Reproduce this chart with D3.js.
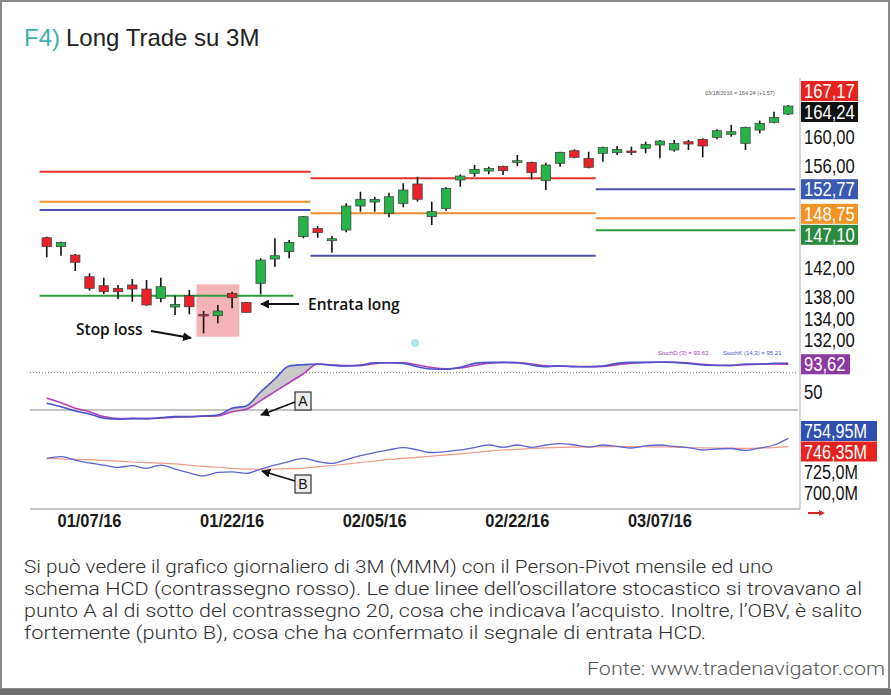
<!DOCTYPE html>
<html>
<head>
<meta charset="utf-8">
<script src="https://cdn.jsdelivr.net/npm/d3@7"></script>
<style>
  body { margin: 0; background: #fff; }
</style>
</head>
<body>
<div id="chart"></div>
<script>
// ---- data ----
var dates = ["01/04/16","01/05/16","01/06/16","01/07/16","01/08/16","01/11/16","01/12/16","01/13/16","01/14/16","01/15/16",
             "01/19/16","01/20/16","01/21/16","01/22/16","01/25/16","01/26/16","01/27/16","01/28/16","01/29/16",
             "02/01/16","02/02/16","02/03/16","02/04/16","02/05/16","02/08/16","02/09/16","02/10/16","02/11/16","02/12/16",
             "02/16/16","02/17/16","02/18/16","02/19/16","02/22/16","02/23/16","02/24/16","02/25/16","02/26/16","02/29/16",
             "03/01/16","03/02/16","03/03/16","03/04/16","03/07/16","03/08/16","03/09/16","03/10/16","03/11/16",
             "03/14/16","03/15/16","03/16/16","03/17/16","03/18/16"];

var opens  = [146.08,144.84,143.69,140.70,139.46,139.10,139.56,139.00,137.72,136.52,
              138.08,135.51,135.32,138.41,137.17,139.79,143.14,144.15,146.22,
              147.38,145.67,147.14,150.45,151.00,149.45,150.82,153.49,148.98,150.13,
              154.04,154.96,155.28,155.93,156.48,156.48,153.94,156.34,158.08,157.03,
              157.72,157.80,158.04,158.41,158.87,158.18,159.32,159.65,159.93,
              160.34,159.10,160.93,162.00,163.14];
var highs  = [146.22,145.53,143.83,141.17,140.56,139.56,140.38,140.24,140.56,138.08,
              138.87,135.97,136.80,138.63,137.21,143.24,146.00,145.76,149.07,
              147.69,146.31,150.82,152.42,151.73,152.29,153.58,154.49,151.05,153.03,
              154.82,156.11,155.87,156.01,157.49,156.56,156.42,157.94,158.27,157.94,
              158.63,158.73,158.63,159.32,159.56,159.56,159.56,159.79,161.03,
              161.62,161.39,162.22,163.46,164.38];
var lows   = [143.38,143.60,141.49,138.77,138.31,137.62,137.25,136.70,137.17,135.42,
              135.51,132.89,134.27,136.34,135.73,138.27,142.08,143.24,146.00,
              146.08,144.01,146.82,149.67,149.67,148.89,150.27,151.05,147.83,149.80,
              153.11,154.49,154.82,154.73,155.97,154.13,152.66,155.87,157.03,155.65,
              156.56,157.49,157.49,157.72,157.03,157.94,158.18,157.17,159.65,
              160.01,158.18,160.48,161.86,163.00];
var closes = [144.84,145.44,142.69,139.10,138.63,138.63,139.00,136.80,139.32,136.89,
              136.56,135.42,135.97,137.80,135.79,143.00,143.60,145.44,148.98,
              146.77,145.94,150.45,151.38,151.38,151.73,152.66,151.38,149.67,152.89,
              154.59,155.51,155.65,155.32,156.70,155.05,156.11,157.86,157.17,155.79,
              158.55,158.27,157.94,158.96,159.42,159.10,159.00,158.73,160.84,
              160.70,161.31,161.86,162.67,164.24];

// monthly pivot levels (red, orange, blue, green)
var janPivots = [155.18, 151.05, 149.90, 138.08];
var febPivots = [154.27, 149.45, 143.60];
var marPivots = [152.77, 148.75, 147.10];

// stochastic %K (14,3) and %D (3)
var stochK = [30.8,25.3,18.4,13.6,6.7,5.1,6.0,6.0,7.7,9.3,9.3,10.4,12.0,22.8,26.5,49.0,69.9,90.8,92.9,
              94.0,91.9,90.8,92.4,96.1,96.1,95.1,89.6,86.0,85.5,88.7,95.1,96.7,96.7,96.1,92.4,89.6,91.3,89.6,89.6,
              90.8,95.1,96.7,96.7,97.2,96.7,95.1,92.4,91.6,91.6,94.0,94.0,95.1,95.21];
var stochD = [38.8,31.8,22.8,17.3,9.3,6.0,6.5,6.0,7.0,8.5,9.0,10.0,10.4,17.3,21.2,35.0,49.5,63.9,78.4,
              94.0,92.5,91.5,91.5,94.5,96.0,95.8,92.4,88.4,86.5,87.5,91.5,95.5,96.5,96.3,94.0,91.2,90.5,90.2,89.8,
              90.2,93.0,95.5,96.5,96.8,96.8,95.6,93.5,92.0,91.8,92.8,93.6,94.2,93.62];

// on balance volume (millions) and its average
var obv    = [734.5,736.1,732.7,729.7,727.4,725.3,726.9,724.2,727.6,723.5,719.5,716.4,720.0,720.5,719.1,723.5,727.6,731.2,734.5,
              731.2,729.2,733.2,737.3,740.4,743.0,745.5,743.0,740.4,741.4,743.0,745.5,748.1,745.7,748.1,745.7,748.1,749.6,748.1,746.0,
              748.1,746.6,745.0,747.1,748.1,746.6,745.5,743.0,744.0,744.5,742.5,745.0,748.1,754.95];
var obvAvg = [734.5,733.8,733.3,733.2,732.4,731.6,730.7,730.0,729.5,728.7,727.4,726.3,725.3,724.2,723.5,723.3,723.5,723.9,724.2,
              725.8,727.1,728.6,730.2,731.7,733.3,734.5,735.5,736.8,737.9,739.1,740.4,741.9,743.0,743.7,744.5,745.2,745.7,745.9,746.1,
              746.4,746.4,746.4,746.3,746.1,745.9,745.5,745.2,745.0,744.8,744.7,745.0,745.5,746.35];

var dateTicks  = ["01/07/16","01/22/16","02/05/16","02/22/16","03/07/16"];
var priceTicks = [160, 156, 142, 138, 134, 132];
var priceMarks = [167.17, 164.24, 152.77, 148.75, 147.10];
var stochTicks = [50];
var obvTicks   = [725, 700];
var hcdDates   = ["01/20/16", "01/22/16"];
var hcdRange   = [132.42, 139.65];

var captionLines = [
  "Si può vedere il grafico giornaliero di 3M (MMM) con il Person-Pivot mensile ed uno",
  "schema HCD (contrassegno rosso). Le due linee dell\u2019oscillatore stocastico si trovavano al",
  "punto A al di sotto del contrassegno 20, cosa che indicava l\u2019acquisto. Inoltre, l\u2019OBV, è salito",
  "fortemente (punto B), cosa che ha confermato il segnale di entrata HCD."
];

// ---- layout ----
var W = 891, H = 695;
var plotL = 30, plotR = 800;

var svg = d3.select("#chart").append("svg")
    .attr("width", W).attr("height", H)
    .style("font-family", "'Liberation Sans', Arial, sans-serif");

// frame
svg.append("rect").attr("x", 1).attr("y", 1).attr("width", W - 3).attr("height", H - 7)
    .attr("fill", "#fff").attr("stroke", "#8a8a8a").attr("stroke-width", 2);
svg.append("rect").attr("x", 0).attr("y", H - 6).attr("width", W).attr("height", 6).attr("fill", "#6f6f6f");

// title
var title = svg.append("text").attr("x", 24).attr("y", 46).style("font-size", "24px");
title.append("tspan").attr("fill", "#3cb0ac").text("F4)");
title.append("tspan").attr("fill", "#222").attr("dx", 6).text("Long Trade su 3M");

// scales
var x = d3.scaleBand().domain(dates).range([39.6, 795.4]).padding(0);
var cx = function (d) { return x(d) + x.bandwidth() / 2; };
var y = d3.scaleLinear().domain([132, 167.17]).range([339.8, 84.8]);
var yS = d3.scaleLinear().domain([0, 100]).range([422.4, 360.3]);
var yO = d3.scaleLinear().domain([700, 754.95]).range([492, 438.3]);

// axis frame lines
svg.append("line").attr("x1", plotR).attr("x2", plotR).attr("y1", 78).attr("y2", 509)
    .attr("stroke", "#c8c8c8").attr("stroke-width", 1.5);
svg.append("line").attr("x1", plotL).attr("x2", plotR).attr("y1", 509).attr("y2", 509)
    .attr("stroke", "#b5b5b5").attr("stroke-width", 1.5);

// HCD zone
svg.append("rect")
    .attr("x", x(hcdDates[0])).attr("width", x(hcdDates[1]) + x.bandwidth() - x(hcdDates[0]))
    .attr("y", y(hcdRange[1])).attr("height", y(hcdRange[0]) - y(hcdRange[1]))
    .attr("fill", "#f2a7a9").attr("opacity", 0.85);

// pivot segments
var pivotColors = ["#e8322b", "#f08c2a", "#4f52b3", "#2f9a3d"];
function drawPivots(levels, colors, d0, d1) {
  svg.append("g").selectAll("line").data(levels).enter().append("line")
      .attr("x1", x(d0)).attr("x2", function (d, i) { return i === 3 ? x("01/28/16") + x.bandwidth() - 3 : x(d1) + x.bandwidth(); })
      .attr("y1", function (d) { return y(d); }).attr("y2", function (d) { return y(d); })
      .attr("stroke", function (d, i) { return colors[i]; }).attr("stroke-width", 2);
}
drawPivots(janPivots, pivotColors, "01/04/16", "01/29/16");
drawPivots(febPivots, pivotColors.slice(0, 3), "02/01/16", "02/29/16");
drawPivots(marPivots, ["#4f52b3", "#f08c2a", "#2f9a3d"], "03/01/16", "03/18/16");

// candles
var candles = svg.append("g").selectAll("g").data(dates).enter().append("g");
candles.append("line")
    .attr("x1", cx).attr("x2", cx)
    .attr("y1", function (d, i) { return y(highs[i]); })
    .attr("y2", function (d, i) { return y(lows[i]); })
    .attr("stroke", "#111").attr("stroke-width", 1.6);
var bw = x.bandwidth() * 0.66;
candles.append("rect")
    .attr("x", function (d) { return cx(d) - bw / 2; })
    .attr("width", bw)
    .attr("y", function (d, i) { return y(Math.max(opens[i], closes[i])); })
    .attr("height", function (d, i) { return Math.max(1.6, Math.abs(y(opens[i]) - y(closes[i]))); })
    .attr("fill", function (d, i) { return closes[i] >= opens[i] ? "#27b34a" : "#e8232b"; })
    .attr("stroke", "#3a3a3a").attr("stroke-width", 0.7);

// small header note
svg.append("text").attr("x", 705).attr("y", 95).attr("fill", "#555")
    .style("font-size", "5.5px").text("03/18/2016 = 164.24 (+1.57)");

// stochastic
svg.append("line").attr("x1", plotL).attr("x2", plotR - 2).attr("y1", yS(80)).attr("y2", yS(80))
    .attr("stroke", "#777").attr("stroke-dasharray", "1,2");
svg.append("line").attr("x1", plotL).attr("x2", plotR - 2).attr("y1", yS(20)).attr("y2", yS(20))
    .attr("stroke", "#b0b0b0").attr("stroke-width", 1.5);

var crossIdx = d3.range(12, 20);
svg.append("path").datum(crossIdx)
    .attr("d", d3.area().x(function (i) { return cx(dates[i]); })
        .y0(function (i) { return yS(stochD[i]); }).y1(function (i) { return yS(stochK[i]); }))
    .attr("fill", "#c9c9c9");

function seriesLine(vals, sc) {
  return d3.line().x(function (v, i) { return cx(dates[i]); }).y(function (v) { return sc(v); })
      .curve(d3.curveMonotoneX)(vals);
}
svg.append("path").attr("d", seriesLine(stochD, yS)).attr("fill", "none")
    .attr("stroke", "#b23fb5").attr("stroke-width", 1.6);
svg.append("path").attr("d", seriesLine(stochK, yS)).attr("fill", "none")
    .attr("stroke", "#4a52cc").attr("stroke-width", 1.6);

svg.append("text").attr("x", 658).attr("y", 355).attr("fill", "#9b3fae")
    .style("font-size", "6px").text("StochD (3) = 93.62");
svg.append("text").attr("x", 723).attr("y", 355).attr("fill", "#4a52cc")
    .style("font-size", "6px").text("StochK (14,3) = 95.21");

// OBV
svg.append("path").attr("d", seriesLine(obvAvg, yO)).attr("fill", "none")
    .attr("stroke", "#f29a86").attr("stroke-width", 1.2);
svg.append("path").attr("d", seriesLine(obv, yO)).attr("fill", "none")
    .attr("stroke", "#5c63d6").attr("stroke-width", 1.3);

// x axis (condensed look via textLength)
var xAxis = svg.append("g").attr("transform", "translate(0,509)")
    .call(d3.axisBottom(x).tickValues(dateTicks).tickSize(0).tickPadding(5));
xAxis.select(".domain").remove();
xAxis.selectAll("text").style("font-size", "19px").style("font-weight", "bold").attr("fill", "#1a1a1a")
    .style("font-family", "'Liberation Sans', Arial, sans-serif")
    .attr("textLength", 64).attr("lengthAdjust", "spacingAndGlyphs");

// right labels, spread so they don't overlap
function spread(items, gap, lo, hi) {
  items.sort(function (a, b) { return a.y - b.y; });
  for (var k = 0; k < 80; k++) {
    for (var i = 1; i < items.length; i++) {
      var d = items[i].y - items[i - 1].y;
      if (d < gap) { var m = (gap - d) / 2; items[i - 1].y -= m; items[i].y += m; }
    }
    items.forEach(function (o) { o.y = Math.max(lo, Math.min(hi, o.y)); });
  }
  return items;
}
var fmt = function (v) { return d3.format(".2f")(v).replace(".", ","); };
var markColors = ["#e8231f", "#111", "#3a59b4", "#f39324", "#2b8a3f"];

var priceItems = priceTicks.map(function (v) { return { y: y(v), text: fmt(v), bg: null }; })
  .concat(priceMarks.map(function (v, i) { return { y: y(v), text: fmt(v), bg: markColors[i] }; }));
spread(priceItems, 21, 91, 340);

var stochItems = [{ y: yS(93.62), text: "93,62", bg: "#8b3b9f", w: 49 }]
  .concat(stochTicks.map(function (v) { return { y: yS(v), text: String(v), bg: null }; }));

var obvItems = [{ y: yO(754.95), text: "754,95M", bg: "#2f50b0", w: 76 },
                { y: yO(746.35), text: "746,35M", bg: "#e52421", w: 76 }]
  .concat(obvTicks.map(function (v) { return { y: yO(v), text: d3.format(".1f")(v).replace(".", ",") + "M", bg: null }; }));
spread(obvItems, 20.5, 431, 493);

function drawLabels(items, w, size) {
  var g = svg.append("g").selectAll("g").data(items).enter().append("g");
  g.filter(function (d) { return d.bg; }).append("rect")
      .attr("x", 801).attr("y", function (d) { return d.y - 10; })
      .attr("width", function (d) { return d.w || w; }).attr("height", 20)
      .attr("fill", function (d) { return d.bg; });
  g.append("text")
      .attr("transform", function (d) { return "translate(804," + d.y + ") scale(0.83,1)"; })
      .attr("dy", "0.36em").style("font-size", size + "px")
      .attr("fill", function (d) { return d.bg ? "#fff" : "#111"; })
      .text(function (d) { return d.text; });
}
drawLabels(priceItems, 57, 20);
drawLabels(stochItems, 49, 20);
drawLabels(obvItems, 76, 19.5);

// small red arrow at axis corner
svg.append("path").attr("d", "M808,512 L819,512 L819,510 L825,513 L819,516 L819,514 L808,514 Z").attr("fill", "#d9262b");

// annotations
var defs = svg.append("defs");
defs.append("marker").attr("id", "head").attr("viewBox", "0 0 10 10").attr("refX", 9).attr("refY", 5)
    .attr("markerWidth", 5).attr("markerHeight", 5).attr("orient", "auto")
  .append("path").attr("d", "M0,0 L10,5 L0,10 Z").attr("fill", "#111");

function arrow(x1, y1, x2, y2) {
  svg.append("line").attr("x1", x1).attr("y1", y1).attr("x2", x2).attr("y2", y2)
      .attr("stroke", "#111").attr("stroke-width", 1.8).attr("marker-end", "url(#head)");
}
var noteFont = "'Open Sans', 'Noto Sans', sans-serif";
svg.append("text").attr("x", 308).attr("y", 305).attr("dy", "0.35em")
    .style("font-family", noteFont).style("font-size", "15.5px").style("font-weight", 600)
    .attr("fill", "#111").text("Entrata long");
arrow(299, 304, 261, 304);
svg.append("text").attr("x", 76).attr("y", 330).attr("dy", "0.35em")
    .style("font-family", noteFont).style("font-size", "15.5px").style("font-weight", 600)
    .attr("fill", "#111").text("Stop loss");
arrow(151, 331, 191, 338);

function letterBox(bx, by, t) {
  svg.append("rect").attr("x", bx).attr("y", by).attr("width", 16).attr("height", 18)
      .attr("fill", "#ececec").attr("stroke", "#333").attr("stroke-width", 1.2);
  svg.append("text").attr("x", bx + 8).attr("y", by + 9).attr("dy", "0.36em").attr("text-anchor", "middle")
      .style("font-size", "14px").attr("fill", "#111").text(t);
}
letterBox(295, 392, "A");
arrow(295, 402, 261, 415);
letterBox(295, 475, "B");
arrow(295, 481, 262, 471);

svg.append("circle").attr("cx", 415).attr("cy", 343).attr("r", 4).attr("fill", "#9fdde6").attr("opacity", 0.8);

// caption
var capFont = "Roboto, 'Liberation Sans', sans-serif";
var capWidths = [749, 838, 838, 682];
svg.append("g").selectAll("text").data(captionLines).enter().append("text")
    .attr("x", 24).attr("y", function (d, i) { return 573 + i * 22; })
    .attr("textLength", function (d, i) { return capWidths[i]; }).attr("lengthAdjust", "spacingAndGlyphs")
    .style("font-family", capFont).style("font-weight", 300)
    .style("font-size", "18.5px").attr("fill", "#2e2e2e").text(function (d) { return d; });
svg.append("text").attr("x", 885).attr("y", 675).attr("text-anchor", "end")
    .attr("textLength", 298).attr("lengthAdjust", "spacingAndGlyphs")
    .style("font-family", capFont).style("font-weight", 300)
    .style("font-size", "18.5px").attr("fill", "#555").text("Fonte: www.tradenavigator.com");
</script>
</body>
</html>
